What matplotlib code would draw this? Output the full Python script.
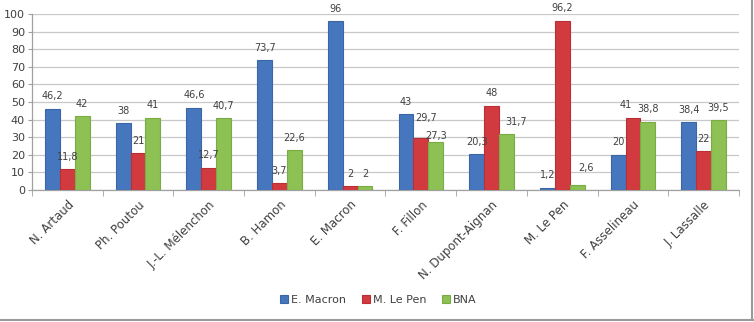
import matplotlib.pyplot as plt
from matplotlib.lines import Line2D
import numpy as np

# Data
candidates = ['N. Artaud', 'Ph. Poutou', 'J.-L. Mélenchon', 'B. Hamon', 'E. Macron',
              'F. Fillon', 'N. Dupont-Aignan', 'M. Le Pen', 'F. Asselineau', 'J. Lassalle']
series_names = ['E. Macron', 'M. Le Pen', 'BNA']
macron = [46.2, 38, 46.6, 73.7, 96, 43, 20.3, 1.2, 20, 38.4]
le_pen = [11.8, 21, 12.7, 3.7, 2, 29.7, 48, 96.2, 41, 22]
bna = [42, 41, 40.7, 22.6, 2, 27.3, 31.7, 2.6, 38.8, 39.5]
colors = ['#4677BE', '#D13B40', '#8DC153']
edges = ['#3A66A8', '#B83035', '#7AAB44']

# small manual label shifts (pixels) as in the original, keyed (category idx, series idx)
label_nudge = {(5, 1): (5, 7), (5, 2): (0, -7), (6, 2): (10, 0),
               (7, 2): (9, 5), (8, 1): (-7, 0)}


def fmt(v):
    # French decimal comma, drop trailing .0
    return ('%g' % v).replace('.', ',')


fig = plt.figure(figsize=(7.54, 3.22), dpi=100)
ax = fig.add_axes([0.0424, 0.41, 0.9377, 0.5465])

x = np.arange(len(candidates))
w = 0.21
for k, (vals, name) in enumerate(zip([macron, le_pen, bna], series_names)):
    pos = x + (k - 1) * w
    ax.bar(pos, vals, width=w, color=colors[k], edgecolor=edges[k], linewidth=0.8,
           label=name, zorder=3)
    for i, (px, v) in enumerate(zip(pos, vals)):
        dx, dy = label_nudge.get((i, k), (0, 0))
        ax.annotate(fmt(v), (px, v), xytext=(dx, 12.5 + dy), textcoords='offset pixels',
                    ha='center', va='center', fontsize=7, color='#404040', zorder=4)

ax.set_xlim(-0.5, len(candidates) - 0.5)
ax.set_ylim(0, 100)
ax.set_yticks(range(0, 101, 10))
ax.yaxis.grid(True, color='#C8C8C8', linewidth=0.9, zorder=0)
ax.set_axisbelow(True)

# category labels centred, tick marks on the group boundaries
ax.set_xticks(x)
ax.set_xticklabels(candidates, rotation=45, ha='right', va='top', rotation_mode='anchor',
                   fontsize=8.5, color='#404040')
ax.tick_params(axis='x', length=0, pad=6)
ax.set_xticks(np.arange(-0.5, len(candidates), 1), minor=True)
ax.tick_params(axis='x', which='minor', length=4, color='#A0A0A0')
ax.tick_params(axis='y', length=3, color='#A0A0A0', labelsize=8, labelcolor='#404040', pad=2)

for side in ['top', 'right']:
    ax.spines[side].set_visible(False)
for side in ['left', 'bottom']:
    ax.spines[side].set_color('#A0A0A0')
    ax.spines[side].set_linewidth(0.9)

fig.legend(loc='center', bbox_to_anchor=(0.502, 0.068), ncol=3, frameon=False,
           fontsize=8, handlelength=0.7, handleheight=0.7, handletextpad=0.3,
           columnspacing=1.4, labelcolor='#404040')

# grey frame at bottom/right edge of the picture
fig.add_artist(Line2D([0, 0.999], [0.006, 0.006], color='#9A9A9A', linewidth=1.5))
fig.add_artist(Line2D([0.998, 0.998], [0.006, 1], color='#9A9A9A', linewidth=1.5))

fig.savefig('out.png', dpi=100)
